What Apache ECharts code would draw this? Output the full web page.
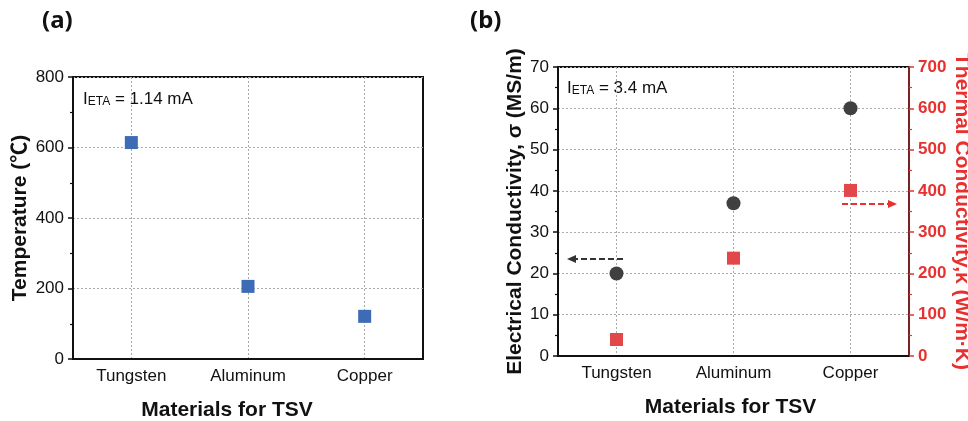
<!DOCTYPE html>
<html>
<head>
<meta charset="utf-8">
<script src="https://cdn.jsdelivr.net/npm/echarts@6/dist/echarts.min.js"></script>
<style>
  html, body { margin: 0; padding: 0; background: #fff; }
  #main { width: 968px; height: 421px; }
</style>
</head>
<body>
<div id="main"></div>
<script>
// data
const materials = ['Tungsten', 'Aluminum', 'Copper'];
const temperature = [614, 206, 121];      // (a) °C
const elecCond = [20, 37, 60];            // (b) MS/m, left axis
const thermCond = [40, 237, 401];         // (b) W/m·K, right axis
const tempTicks = { min: 0, max: 800, interval: 200 };
const elecTicks = { min: 0, max: 70, interval: 10 };
const thermTicks = { min: 0, max: 700, interval: 100 };

const FONT = 'Liberation Sans, Arial, Noto Sans CJK SC, sans-serif';
const RED = '#e8302e';
const gridLine = { show: true, lineStyle: { color: '#aaa', type: [2, 2], width: 1 } };

function catAxis (gridIndex, shiftLeft) {
  return {
    type: 'category', gridIndex: gridIndex, data: materials, boundaryGap: true,
    name: 'Materials for TSV', nameLocation: 'middle', nameGap: 41,
    nameTextStyle: { fontFamily: FONT, fontWeight: 'bold', fontSize: 21, color: '#111', padding: [0, shiftLeft * 2, 0, 0] },
    axisLine: { lineStyle: { color: '#111', width: 2 } },
    axisTick: { alignWithLabel: true, length: 5, lineStyle: { color: '#111', width: 1.5 } },
    axisLabel: { fontFamily: FONT, fontSize: 17, color: '#111', margin: 9 },
    splitLine: Object.assign({ alignWithLabel: true }, gridLine)
  }
}
// second category axis only for the small ticks between categories
function minorCatAxis (gridIndex) {
  return {
    type: 'category', gridIndex: gridIndex, data: materials, boundaryGap: true,
    position: 'bottom', axisLine: { show: false }, axisLabel: { show: false },
    axisTick: { length: 3, lineStyle: { color: '#111', width: 1.5 } },
    splitLine: { show: false }
  }
}
function valAxis (gridIndex, t, name, color, side, nameGap, bold, nameSize) {
  return {
    type: 'value', gridIndex: gridIndex, position: side,
    min: t.min, max: t.max, interval: t.interval,
    name: name, nameLocation: 'middle', nameGap: nameGap,
    nameRotate: side === 'right' ? -90 : 90,
    nameTextStyle: { fontFamily: FONT, fontWeight: 'bold', fontSize: nameSize, color: color },
    axisLine: { show: true, lineStyle: { color: side === 'right' ? '#7a2222' : '#111', width: 2 } },
    axisTick: { show: true, length: 5, lineStyle: { color: color, width: 1.5 } },
    minorTick: { show: true, splitNumber: 2, length: 3, lineStyle: { color: color, width: 1.2 } },
    axisLabel: { fontFamily: FONT, fontSize: 17, color: color, margin: 9, fontWeight: bold ? 'bold' : 'normal' },
    splitLine: side === 'right' ? { show: false } : gridLine
  }
}

const subText = {
  a: { fontFamily: FONT, fontSize: 17, fill: '#111', lineHeight: 20, verticalAlign: 'bottom' },
  s: { fontFamily: FONT, fontSize: 12, fill: '#111', lineHeight: 20, verticalAlign: 'bottom', padding: [9, 0, 0, 0] }
};

const chart = echarts.init(document.getElementById('main'));
const option = {
  animation: false,
  backgroundColor: '#fff',
  grid: [
    { left: 73, top: 77, width: 350, height: 282, show: true, borderColor: '#111', borderWidth: 2, outerBoundsMode: 'none', containLabel: false },
    { left: 558, top: 67, width: 351, height: 289, show: true, borderColor: '#111', borderWidth: 2, outerBoundsMode: 'none', containLabel: false }
  ],
  xAxis: [catAxis(0, 21), catAxis(1, 3), minorCatAxis(0), minorCatAxis(1)],
  yAxis: [
    valAxis(0, tempTicks, 'Temperature (℃)', '#111', 'left', 42, false, 21),
    valAxis(1, elecTicks, 'Electrical Conductivity, σ (MS/m)', '#111', 'left', 31, false, 21),
    valAxis(1, thermTicks, 'Thermal Conductivity,κ (W/m·K)', RED, 'right', 42, true, 21)
  ],
  series: [
    {
      type: 'scatter', xAxisIndex: 0, yAxisIndex: 0, data: temperature,
      symbol: 'rect', symbolSize: 13, itemStyle: { color: '#3d6bb6', opacity: 1 }, z: 5
    },
    {
      type: 'scatter', xAxisIndex: 1, yAxisIndex: 1, data: elecCond,
      symbol: 'circle', symbolSize: 14, itemStyle: { color: '#404040', opacity: 1 }, z: 5
    },
    {
      type: 'scatter', xAxisIndex: 1, yAxisIndex: 2, data: thermCond,
      symbol: 'rect', symbolSize: 13, itemStyle: { color: '#e2474a', opacity: 1 }, z: 5
    }
  ],
  graphic: [
    { type: 'text', left: 42, top: 9, style: { text: '(a)', fontFamily: 'Noto Sans', fontWeight: 'bold', fontSize: 24, fill: '#111' } },
    { type: 'text', left: 470, top: 9, style: { text: '(b)', fontFamily: 'Noto Sans', fontWeight: 'bold', fontSize: 24, fill: '#111' } },
    { type: 'text', left: 83, top: 87, style: { text: '{a|I}{s|ETA}{a| = 1.14 mA}', rich: subText } },
    { type: 'text', left: 567, top: 76, style: { text: '{a|I}{s|ETA}{a| = 3.4 mA}', rich: subText } },
    // dashed arrows pointing to the matching axis
    { type: 'line', shape: { x1: 623, y1: 259, x2: 575, y2: 259 }, style: { stroke: '#333', lineWidth: 2, lineDash: [6, 3] } },
    { type: 'polygon', shape: { points: [[567, 259], [576, 255], [576, 263]] }, style: { fill: '#333' } },
    { type: 'line', shape: { x1: 842, y1: 204, x2: 889, y2: 204 }, style: { stroke: RED, lineWidth: 2, lineDash: [6, 3] } },
    { type: 'polygon', shape: { points: [[897, 204], [888, 200], [888, 208]] }, style: { fill: RED } }
  ]
};
chart.setOption(option);
</script>
</body>
</html>
